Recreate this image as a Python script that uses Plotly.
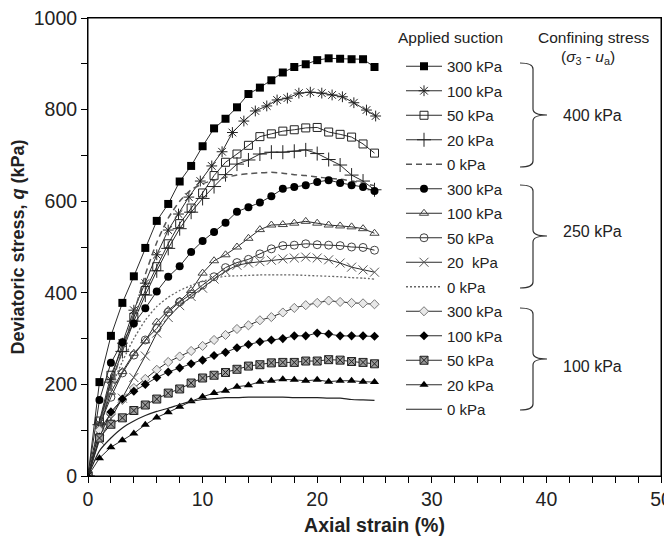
import plotly.graph_objects as go

# ---------------- data ----------------
strain = list(range(26))  # axial strain (%) for most series
strain_400_100 = [0, 1, 2, 3, 4, 5, 6, 7, 7.9, 8.8, 9.8, 10.8, 11.7, 12.6, 13.6, 14.6,
                  15.6, 16.5, 17.4, 18.4, 19.4, 20.4, 21.3, 22.2, 23.2, 24.3, 25.1]

q400_300 = [0, 205, 306, 378, 436, 498, 557, 594, 643, 677, 720, 759, 780, 805, 834, 848,
            864, 881, 893, 899, 908, 912, 911, 910, 910, 893]
q400_100 = [0, 115, 210, 290, 362, 421, 483, 537, 572, 609, 644, 677, 708, 750, 775, 797,
            808, 821, 825, 836, 838, 836, 832, 828, 815, 799, 786]
q400_50 = [0, 120, 220, 280, 347, 405, 457, 507, 551, 585, 618, 656, 685, 703, 722, 741,
           747, 753, 756, 760, 761, 751, 746, 740, 725, 705]
q400_20 = [0, 112, 205, 272, 338, 395, 448, 497, 540, 576, 606, 632, 658, 681, 690, 703,
           707, 707, 709, 712, 704, 691, 679, 657, 644, 625]
q400_0 = [0, 100, 195, 275, 355, 440, 510, 563, 600, 625, 638, 646, 652, 657, 660, 662,
          663, 661, 658, 656, 653, 650, 648, 644, 639, 634]

q250_300 = [0, 166, 247, 292, 333, 366, 403, 435, 458, 489, 513, 533, 553, 577, 587, 597,
            611, 627, 631, 635, 642, 646, 640, 635, 631, 622]
q250_100 = [0, 107, 183, 228, 268, 295, 336, 362, 382, 405, 443, 470, 483, 500, 519, 538,
            548, 549, 552, 556, 552, 548, 546, 544, 540, 530]
q250_50 = [0, 110, 172, 225, 264, 297, 322, 358, 380, 397, 417, 435, 455, 466, 473, 485,
           496, 503, 504, 507, 505, 504, 503, 500, 499, 493]
q250_20 = [0, 78, 125, 170, 215, 262, 312, 346, 372, 392, 410, 430, 447, 460, 465, 468,
           471, 474, 476, 478, 476, 472, 465, 456, 450, 445]
q250_0 = [0, 110, 190, 250, 300, 340, 370, 390, 405, 416, 425, 432, 436, 437, 438, 439,
          439, 439, 439, 438, 437, 436, 435, 433, 432, 430]

q100_300 = [0, 100, 137, 166, 192, 212, 232, 249, 261, 273, 284, 297, 308, 321, 329, 340,
            347, 357, 367, 373, 378, 383, 380, 378, 377, 375]
q100_100 = [0, 85, 140, 168, 185, 200, 215, 227, 236, 245, 253, 263, 270, 280, 287, 293,
            297, 300, 306, 306, 312, 310, 306, 306, 306, 305]
q100_50 = [0, 83, 113, 127, 143, 155, 168, 181, 190, 203, 214, 220, 226, 233, 240, 243,
           247, 248, 248, 251, 251, 254, 253, 250, 248, 245]
q100_20 = [0, 39, 63, 78, 93, 112, 128, 139, 151, 163, 173, 181, 186, 195, 198, 206,
           208, 211, 210, 208, 210, 206, 208, 208, 206, 205]
q100_0 = [0, 55, 83, 105, 120, 132, 141, 148, 156, 163, 167, 169, 171, 171, 172, 172,
          172, 172, 171, 171, 171, 170, 170, 167, 166, 165]

suction_labels = ["300 kPa", "100 kPa", "50 kPa", "20 kPa", "0 kPa",
                  "300 kPa", "100 kPa", "50 kPa", "20  kPa", "0 kPa",
                  "300 kPa", "100 kPa", "50 kPa", "20 kPa", "0 kPa"]
confining_labels = ["400 kPa", "250 kPa", "100 kPa"]

# ---------------- figure ----------------
FONT = "Arial, Liberation Sans, sans-serif"
OFF = 8                      # page body margin
W, H = 664, 536
L, R, T, B = 80, 11, 10, 68  # plot area in screen px: x 88..661, y 18..476
PW, PH = W - L - R, H - T - B


def px(sx):
    """screen x pixel -> paper x"""
    return (sx - OFF - L) / PW


def py(sy):
    """screen y pixel -> paper y"""
    return (H - B - (sy - OFF)) / PH


fig = go.Figure()

LC = "#2b2b2b"
series = [
    (strain, q400_300, dict(symbol="square", size=8, color="black"), None),
    (strain_400_100, q400_100, dict(symbol="asterisk-open", size=9, color="#222",
                                    line=dict(width=1, color="#222")), None),
    (strain, q400_50, dict(symbol="square-open", size=8, color="#222",
                           line=dict(width=1, color="#222")), None),
    (strain, q400_20, dict(symbol="cross-thin-open", size=10, color="#222",
                           line=dict(width=1, color="#222")), None),
    (strain, q400_0, None, dict(dash="6px,4px", color="#555", width=1.5)),
    (strain, q250_300, dict(symbol="circle", size=8, color="black"), None),
    (strain, q250_100, dict(symbol="triangle-up-open", size=8, color="#444",
                            line=dict(width=1, color="#444")), None),
    (strain, q250_50, dict(symbol="circle-open", size=8, color="#444",
                           line=dict(width=1, color="#444")), None),
    (strain, q250_20, dict(symbol="x-thin-open", size=9, color="#555",
                           line=dict(width=1, color="#555")), None),
    (strain, q250_0, None, dict(dash="2px,2px", color="#666", width=1.3)),
    (strain, q100_300, dict(symbol="diamond", size=7, color="#e8e8e8",
                            line=dict(width=1, color="#777")), None),
    (strain, q100_100, dict(symbol="diamond", size=7, color="black"), None),
    (strain, q100_50, dict(symbol="square-x", size=8, color="#9a9a9a",
                           line=dict(width=1, color="#222")), None),
    (strain, q100_20, dict(symbol="triangle-up", size=8, color="black"), None),
    (strain, q100_0, None, dict(color="#222", width=1.2)),
]

for i, (xs, ys, mk, ln) in enumerate(series):
    if mk is not None:
        fig.add_trace(go.Scatter(
            x=xs, y=ys, mode="lines+markers", name=suction_labels[i],
            legendgroup=f"g{i}", marker=mk,
            line=dict(color=LC, width=1)))
    else:
        fig.add_trace(go.Scatter(
            x=xs, y=ys, mode="lines", name=suction_labels[i],
            legendgroup=f"g{i}", line=dict(shape="spline", smoothing=0.6, **ln)))

fig.update_layout(
    width=W, height=H,
    margin=dict(l=L, r=R, t=T, b=B, autoexpand=False),
    paper_bgcolor="white", plot_bgcolor="white",
    font=dict(family=FONT, color="#222", size=15),
    showlegend=True,
    legend=dict(x=px(401), y=py(50), xanchor="left", yanchor="top",
                traceorder="grouped", tracegroupgap=2,
                font=dict(size=15, family=FONT, color="#222"),
                bgcolor="rgba(0,0,0,0)", borderwidth=0, itemwidth=36),
    xaxis=dict(range=[0, 50], dtick=10, tick0=0, showgrid=False, zeroline=False,
               automargin=False, ticklabeloverflow="allow",
               showline=True, linecolor="black", linewidth=1, mirror=True,
               ticks="outside", ticklen=6, tickcolor="black",
               minor=dict(dtick=2, ticks="outside", ticklen=6, tickcolor="black"),
               tickfont=dict(size=19.5, family=FONT, color="#222"),
               title=dict(text="<b>Axial strain (%)</b>", standoff=8,
                          font=dict(size=19.5, family=FONT, color="#222"))),
    yaxis=dict(range=[0, 1000], dtick=200, tick0=0, showgrid=False, zeroline=False,
               automargin=False, ticklabeloverflow="allow",
               showline=True, linecolor="black", linewidth=1, mirror=True,
               ticks="outside", ticklen=6, tickcolor="black",
               minor=dict(dtick=100, ticks="outside", ticklen=6, tickcolor="black"),
               tickfont=dict(size=19.5, family=FONT, color="#222"),
               title=dict(text="<b>Deviatoric stress, <i>q</i> (kPa)</b>", standoff=6,
                          font=dict(size=18, family=FONT, color="#222"))),
)

# plot-area frame
fig.add_shape(type="rect", xref="paper", yref="paper", x0=0, y0=0, x1=1, y1=1,
              line=dict(color="black", width=1), layer="above")

ann_font = dict(size=15.5, family=FONT, color="#222")
# headers
fig.add_annotation(x=px(450), y=py(37), xref="paper", yref="paper", text="Applied suction",
                   showarrow=False, xanchor="center", yanchor="middle", font=ann_font)
fig.add_annotation(x=px(593), y=py(37), xref="paper", yref="paper", text="Confining stress",
                   showarrow=False, xanchor="center", yanchor="middle", font=ann_font)
fig.add_annotation(x=px(588), y=py(58), xref="paper", yref="paper",
                   text="(<i>σ</i><sub>3</sub> - <i>u</i><sub>a</sub>)",
                   showarrow=False, xanchor="center", yanchor="middle", font=ann_font)

# braces + confining stress labels
braces = [(63, 167, 115, 115), (185, 288, 236, 231), (308, 410, 359, 366)]
for (yt, yb, ym, ylab), lab in zip(braces, confining_labels):
    x0, x1, xt = 520, 533, 547
    pts = [
        f"M{px(x0)},{py(yt)}",
        f"Q{px(x1)},{py(yt)} {px(x1)},{py(yt + 6)}",
        f"L{px(x1)},{py(ym - 6)}",
        f"Q{px(x1)},{py(ym)} {px(xt)},{py(ym)}",
        f"Q{px(x1)},{py(ym)} {px(x1)},{py(ym + 6)}",
        f"L{px(x1)},{py(yb - 6)}",
        f"Q{px(x1)},{py(yb)} {px(x0)},{py(yb)}",
    ]
    fig.add_shape(type="path", xref="paper", yref="paper", path=" ".join(pts),
                  line=dict(color="#333", width=1.2))
    fig.add_annotation(x=px(592), y=py(ylab), xref="paper", yref="paper", text=lab,
                       showarrow=False, xanchor="center", yanchor="middle",
                       font=dict(size=16, family=FONT, color="#222"))

fig.write_html("out.html")
